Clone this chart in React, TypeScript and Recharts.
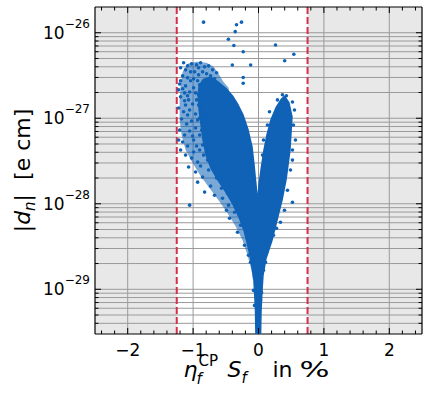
import React from 'react';
import { ComposedChart, XAxis, YAxis, Scatter, ReferenceArea, ReferenceLine } from 'recharts';

// ---- axes / ticks ----
const xDomain = [-2.5, 2.5];
const yDomain = [3e-30, 2e-26];
const xTicks = [-2.4, -2.2, -2, -1.8, -1.6, -1.4, -1.2, -1, -0.8, -0.6, -0.4, -0.2, 0, 0.2, 0.4, 0.6, 0.8, 1, 1.2, 1.4, 1.6, 1.8, 2, 2.2, 2.4];
const xMajorTicks = [-2, -1, 0, 1, 2];
const xMajorLabels = ['\u22122', '\u22121', '0', '1', '2'];
const yTicks = [
  4e-30, 5e-30, 6e-30, 7e-30, 8e-30, 9e-30,
  1e-29, 2e-29, 3e-29, 4e-29, 5e-29, 6e-29, 7e-29, 8e-29, 9e-29,
  1e-28, 2e-28, 3e-28, 4e-28, 5e-28, 6e-28, 7e-28, 8e-28, 9e-28,
  1e-27, 2e-27, 3e-27, 4e-27, 5e-27, 6e-27, 7e-27, 8e-27, 9e-27,
  1e-26,
];
const yMajorTicks = [1e-29, 1e-28, 1e-27, 1e-26];
const yMajorLabels = ['\u221229', '\u221228', '\u221227', '\u221226'];

// ---- excluded regions & bounds ----
const excludedLeft = [-2.5, -1.25];
const excludedRight = [0.75, 2.5];
const boundLines = [-1.25, 0.75];

// ---- medium-density envelope of the left lobe (outline) ----
const haloOutline = [
  { x: -0.061, y: 9.71e-30 }, { x: -0.107, y: 1.67e-29 }, { x: -0.168, y: 2.5e-29 },
  { x: -0.244, y: 3.74e-29 }, { x: -0.351, y: 5.46e-29 }, { x: -0.473, y: 7.76e-29 },
  { x: -0.611, y: 1.1e-28 }, { x: -0.748, y: 1.52e-28 }, { x: -0.885, y: 2.11e-28 },
  { x: -1.008, y: 2.99e-28 }, { x: -1.115, y: 4.25e-28 }, { x: -1.176, y: 6.37e-28 },
  { x: -1.206, y: 9.55e-28 }, { x: -1.206, y: 1.64e-27 }, { x: -1.191, y: 2.46e-27 },
  { x: -1.16, y: 3.49e-27 }, { x: -1.084, y: 4.33e-27 }, { x: -0.947, y: 4.57e-27 },
  { x: -0.794, y: 4.45e-27 }, { x: -0.687, y: 3.99e-27 }, { x: -0.611, y: 3.31e-27 },
  { x: -0.534, y: 2.66e-27 }, { x: -0.458, y: 2.27e-27 }, { x: -0.29, y: 4.25e-28 },
];

// ---- dense core of the scatter cloud (outline) ----
const coreOutline = [
  { x: -0.031, y: 2.7e-30 }, { x: -0.038, y: 5.66e-30 }, { x: -0.053, y: 9.71e-30 },
  { x: -0.061, y: 1.27e-29 }, { x: -0.092, y: 1.81e-29 }, { x: -0.122, y: 2.5e-29 },
  { x: -0.168, y: 3.55e-29 }, { x: -0.214, y: 4.91e-29 }, { x: -0.29, y: 6.97e-29 },
  { x: -0.382, y: 9.89e-29 }, { x: -0.489, y: 1.37e-28 }, { x: -0.611, y: 1.89e-28 },
  { x: -0.718, y: 2.61e-28 }, { x: -0.794, y: 3.71e-28 }, { x: -0.84, y: 5.57e-28 },
  { x: -0.87, y: 8.34e-28 }, { x: -0.9, y: 1.25e-27 }, { x: -0.916, y: 1.88e-27 },
  { x: -0.9, y: 2.39e-27 }, { x: -0.84, y: 2.81e-27 }, { x: -0.748, y: 2.97e-27 },
  { x: -0.672, y: 2.81e-27 }, { x: -0.58, y: 2.46e-27 },
  { x: -0.489, y: 2.15e-27 }, { x: -0.397, y: 1.78e-27 },
  { x: -0.321, y: 1.43e-27 }, { x: -0.244, y: 1.09e-27 }, { x: -0.168, y: 7.29e-28 },
  { x: -0.107, y: 4.61e-28 }, { x: -0.076, y: 2.84e-28 }, { x: -0.046, y: 1.65e-28 },
  { x: -0.008, y: 8.88e-29 },
  { x: 0.015, y: 1.65e-28 }, { x: 0.046, y: 2.48e-28 }, { x: 0.092, y: 4.25e-28 },
  { x: 0.137, y: 6.37e-28 }, { x: 0.198, y: 9.55e-28 }, { x: 0.275, y: 1.32e-27 },
  { x: 0.351, y: 1.64e-27 }, { x: 0.397, y: 1.78e-27 }, { x: 0.458, y: 1.51e-27 },
  { x: 0.504, y: 1.04e-27 }, { x: 0.489, y: 6.72e-28 }, { x: 0.473, y: 4.25e-28 },
  { x: 0.443, y: 2.84e-28 }, { x: 0.412, y: 1.89e-28 }, { x: 0.351, y: 1.1e-28 },
  { x: 0.275, y: 6.42e-29 }, { x: 0.198, y: 3.74e-29 }, { x: 0.107, y: 2.3e-29 },
  { x: 0.061, y: 1.46e-29 }, { x: 0.046, y: 9.71e-30 }, { x: 0.031, y: 5.66e-30 },
  { x: 0.023, y: 2.7e-30 },
];

// ---- individual points (outliers and cloud fringe) ----
const outlierPoints = [
  { x: -0.84, y: 1.33e-26 }, { x: -0.336, y: 1.24e-26 }, { x: -0.26, y: 1.33e-26 },
  { x: -0.356, y: 1.03e-26 }, { x: -0.46, y: 8.4e-27 }, { x: -0.377, y: 7.1e-27 },
  { x: -0.234, y: 6.0e-27 }, { x: -0.4, y: 4.2e-27 }, { x: -0.12, y: 4.2e-27 },
  { x: -0.234, y: 3.0e-27 }, { x: -0.234, y: 2.57e-27 }, { x: 0.26, y: 7.2e-27 },
  { x: 0.4, y: 4.7e-27 }, { x: 0.54, y: 5.6e-27 },
];

const fringePoints = [
  { x: -1.145, y: 4.45e-27 }, { x: -1.084, y: 4.1e-27 }, { x: -1.023, y: 4.33e-27 },
  { x: -0.947, y: 4.22e-27 }, { x: -0.885, y: 4.45e-27 }, { x: -0.824, y: 3.99e-27 },
  { x: -0.763, y: 4.1e-27 }, { x: -0.702, y: 3.68e-27 }, { x: -1.115, y: 3.68e-27 },
  { x: -1.038, y: 3.49e-27 }, { x: -0.977, y: 3.49e-27 }, { x: -0.916, y: 3.22e-27 },
  { x: -0.855, y: 3.49e-27 }, { x: -0.794, y: 3.31e-27 }, { x: -0.733, y: 3.13e-27 },
  { x: -1.16, y: 3.13e-27 }, { x: -1.084, y: 2.97e-27 }, { x: -0.992, y: 2.89e-27 },
  { x: -0.641, y: 3.4e-27 }, { x: -0.672, y: 2.89e-27 },
  { x: -1.206, y: 2.52e-27 }, { x: -1.16, y: 2.21e-27 }, { x: -1.115, y: 2.39e-27 },
  { x: -1.053, y: 2.03e-27 }, { x: -1.191, y: 1.78e-27 }, { x: -1.13, y: 1.6e-27 },
  { x: -1.084, y: 1.83e-27 }, { x: -1.008, y: 1.47e-27 }, { x: -1.221, y: 1.32e-27 },
  { x: -1.145, y: 1.19e-27 }, { x: -1.053, y: 1.25e-27 }, { x: -0.962, y: 1.12e-27 },
  { x: -1.176, y: 9.81e-28 }, { x: -1.099, y: 8.57e-28 }, { x: -1.023, y: 9.3e-28 },
  { x: -1.206, y: 7.29e-28 }, { x: -1.13, y: 6.37e-28 }, { x: -1.053, y: 7.1e-28 },
  { x: -0.962, y: 7.69e-28 }, { x: -1.16, y: 5.28e-28 }, { x: -1.084, y: 4.73e-28 },
  { x: -0.992, y: 5.57e-28 }, { x: -0.9, y: 4.25e-28 }, { x: -1.115, y: 3.71e-28 },
  { x: -1.023, y: 3.42e-28 }, { x: -0.931, y: 3.07e-28 }, { x: -0.84, y: 3.71e-28 },
  { x: -1.069, y: 2.69e-28 }, { x: -0.962, y: 2.35e-28 }, { x: -0.855, y: 2.05e-28 },
  { x: -0.763, y: 2.48e-28 }, { x: -0.931, y: 1.79e-28 }, { x: -0.824, y: 1.37e-28 },
  { x: -0.733, y: 1.61e-28 }, { x: -1.053, y: 9.63e-29 }, { x: -0.641, y: 2.0e-28 },
  { x: -0.565, y: 1.52e-28 }, { x: -0.55, y: 1.16e-28 }, { x: -0.458, y: 9.63e-29 },
  { x: -0.443, y: 6.78e-29 }, { x: -0.366, y: 7.97e-29 }, { x: -0.321, y: 4.65e-29 },
  { x: -0.275, y: 5.61e-29 }, { x: -0.214, y: 3.27e-29 }, { x: -0.168, y: 3.95e-29 },
  { x: -0.153, y: 2.5e-29 }, { x: -0.122, y: 2.07e-29 },
  { x: 0.519, y: 1.55e-27 }, { x: 0.55, y: 1.25e-27 }, { x: 0.534, y: 8.34e-28 },
  { x: 0.565, y: 5.57e-28 }, { x: 0.519, y: 4.25e-28 }, { x: 0.519, y: 3.24e-28 },
  { x: 0.489, y: 2.48e-28 }, { x: 0.519, y: 1.04e-28 }, { x: 0.443, y: 1.44e-28 },
  { x: 0.397, y: 8.41e-29 }, { x: 0.275, y: 5.18e-29 }, { x: 0.336, y: 6.09e-29 },
  { x: 0.168, y: 3.55e-29 }, { x: 0.229, y: 4.28e-29 }, { x: 0.122, y: 2.71e-29 },
  { x: 0.107, y: 2.07e-29 }, { x: 0.076, y: 1.67e-29 }, { x: 0.168, y: 1.19e-27 },
  { x: 0.137, y: 8.34e-28 }, { x: 0.076, y: 5.57e-28 }, { x: 0.061, y: 3.71e-28 },
  { x: 0.29, y: 1.64e-27 }, { x: 0.366, y: 1.88e-27 }, { x: 0.427, y: 1.83e-27 },
  { x: -0.153, y: 4.25e-28 }, { x: -0.122, y: 3.24e-28 }, { x: 0.046, y: 1.89e-28 },
  { x: 0.076, y: 2.84e-28 },
  { x: -0.076, y: 9.71e-30 }, { x: 0.046, y: 9.2e-30 }, { x: -0.061, y: 6.48e-30 },
  { x: 0.031, y: 7.41e-30 },
  { x: -0.9, y: 2.46e-27 }, { x: -0.84, y: 2.15e-27 }, { x: -0.916, y: 1.88e-27 },
  { x: -0.809, y: 1.64e-27 }, { x: -0.885, y: 1.32e-27 }, { x: -0.824, y: 1.06e-27 },
  { x: -0.931, y: 9.55e-28 }, { x: -0.855, y: 8.34e-28 }, { x: -0.9, y: 6.37e-28 },
  { x: -0.809, y: 5.87e-28 }, { x: -0.855, y: 4.86e-28 }, { x: -0.763, y: 4.25e-28 },
  { x: -0.718, y: 3.07e-28 }, { x: -0.656, y: 2.61e-28 }, { x: -0.779, y: 3.24e-28 },
  { x: -1.191, y: 3.89e-27 }, { x: -0.916, y: 3.89e-27 }, { x: -1.191, y: 2.74e-27 },
  { x: -1.038, y: 2.74e-27 }, { x: -0.931, y: 2.74e-27 }, { x: -0.992, y: 2.27e-27 },
  { x: -1.221, y: 2.15e-27 }, { x: -1.13, y: 1.98e-27 }, { x: -0.962, y: 1.98e-27 },
  { x: -1.069, y: 1.64e-27 }, { x: -0.947, y: 1.64e-27 }, { x: -1.115, y: 1.43e-27 },
  { x: -0.916, y: 1.43e-27 }, { x: -1.084, y: 1.09e-27 }, { x: -0.9, y: 1.008e-27 },
  { x: -0.87, y: 7.29e-28 }, { x: -1.008, y: 6.2e-28 }, { x: -1.221, y: 5.57e-28 },
  { x: -0.947, y: 4.73e-28 }, { x: -1.191, y: 4.25e-28 }, { x: -0.992, y: 4.03e-28 },
  { x: -0.733, y: 3.52e-28 }, { x: -0.885, y: 2.76e-28 }, { x: -0.534, y: 2.0e-28 },
  { x: -0.672, y: 1.26e-28 }, { x: -0.473, y: 1.33e-28 }, { x: -0.397, y: 1.1e-28 },
  { x: -0.351, y: 9.63e-29 }, { x: -0.29, y: 7.35e-29 }, { x: -0.229, y: 5.61e-29 },
  { x: -0.489, y: 8.41e-29 },
];

// ---- styles ----
const FONT = '"DejaVu Sans", sans-serif';
const BLUE = '#0f62b6';
const GRID = '#9a9a9a';
const SHADE = '#e8e8e8';
const RED = '#d62f4b';

const isMajorX = (v: number) => xMajorTicks.indexOf(v) >= 0;
const isMajorY = (v: number) => yMajorTicks.indexOf(v) >= 0;

const BottomTick = (props: any) => {
  const { x, y, payload } = props;
  const v = payload.value;
  const major = isMajorX(v);
  const idx = xMajorTicks.indexOf(v);
  return (
    <g>
      <line x1={x} y1={y} x2={x} y2={y - (major ? 6 : 3.5)} stroke="#000" strokeWidth={1} />
      {major && (
        <text x={x} y={y + 22} textAnchor="middle" fontSize={17} fontFamily={FONT} fill="#000">
          {xMajorLabels[idx]}
        </text>
      )}
    </g>
  );
};

const TopTick = (props: any) => {
  const { x, y, payload } = props;
  const major = isMajorX(payload.value);
  return <line x1={x} y1={y} x2={x} y2={y + (major ? 6 : 3.5)} stroke="#000" strokeWidth={1} />;
};

const LeftTick = (props: any) => {
  const { x, y, payload } = props;
  const v = payload.value;
  const major = isMajorY(v);
  const idx = yMajorTicks.indexOf(v);
  return (
    <g>
      <line x1={x} y1={y} x2={x + (major ? 6 : 3.5)} y2={y} stroke="#000" strokeWidth={1} />
      {major && (
        <text x={x - 5} y={y + 6} textAnchor="end" fontSize={17} fontFamily={FONT} fill="#000">
          10
          <tspan fontSize={12} dy={-11}>{yMajorLabels[idx]}</tspan>
        </text>
      )}
    </g>
  );
};

const RightTick = (props: any) => {
  const { x, y, payload } = props;
  const major = isMajorY(payload.value);
  return <line x1={x} y1={y} x2={x - (major ? 6 : 3.5)} y2={y} stroke="#000" strokeWidth={1} />;
};

const XLabel = (props: any) => {
  const vb = props.viewBox || { x: 95, width: 327 };
  const cx = vb.x + vb.width / 2;
  const base = 377;
  return (
    <g fontFamily={FONT} fill="#000">
      <text x={cx - 75} y={base} fontSize={22} fontStyle="italic">η</text>
      <text x={cx - 62} y={base + 7} fontSize={15} fontStyle="italic">f</text>
      <text x={cx - 60} y={base - 11} fontSize={15}>CP</text>
      <text x={cx - 31} y={base} fontSize={22} fontStyle="italic">S</text>
      <text x={cx - 17} y={base + 6} fontSize={15} fontStyle="italic">f</text>
      <text x={cx + 14} y={base} fontSize={22}>in</text>
      <text x={cx + 41} y={base} fontSize={22} textLength={30} lengthAdjust="spacingAndGlyphs">%</text>
    </g>
  );
};

const YLabel = (props: any) => {
  const vb = props.viewBox || { y: 7, height: 327 };
  const cy = vb.y + vb.height / 2;
  const bx = 30;
  return (
    <text
      x={bx}
      y={cy}
      transform={`rotate(-90 ${bx} ${cy})`}
      textAnchor="middle"
      fontFamily={FONT}
      fontSize={22}
      fill="#000"
    >
      |<tspan fontStyle="italic">d</tspan>
      <tspan fontStyle="italic" fontSize={15} dy={5}>n</tspan>
      <tspan dy={-5}>|{'\u00a0\u00a0'}[e cm]</tspan>
    </text>
  );
};

const makePolygon = (opacity: number, sw: number) => (props: any) => {
  const pts = props.points || [];
  return (
    <polygon
      points={pts.map((p: any) => `${p.x},${p.y}`).join(' ')}
      fill={BLUE}
      fillOpacity={opacity}
      stroke={sw > 0 ? BLUE : 'none'}
      strokeWidth={sw}
      strokeLinejoin="round"
    />
  );
};
const HaloPolygon = makePolygon(0.55, 0);
const CorePolygon = makePolygon(1, 2.5);

const Dot = (props: any) => <circle cx={props.cx} cy={props.cy} r={1.8} fill={BLUE} />;
const NoDot = () => <g />;

export default function App() {
  return (
    <div style={{ position: 'absolute', left: 0, top: 0, width: 423, height: 402, background: '#fff' }}>
      <ComposedChart width={423} height={402} margin={{ top: 6, right: 0, bottom: 0, left: 0 }}>
        <XAxis
          dataKey="x"
          type="number"
          domain={xDomain}
          ticks={xTicks}
          interval={0}
          height={68}
          tickSize={0}
          tickMargin={0}
          tickLine={false}
          tick={<BottomTick />}
          axisLine={{ stroke: '#000', strokeWidth: 1.2 }}
          allowDataOverflow
          label={<XLabel />}
        />
        <XAxis
          xAxisId="top"
          orientation="top"
          dataKey="x"
          type="number"
          domain={xDomain}
          ticks={xTicks}
          interval={0}
          height={1}
          tickSize={0}
          tickMargin={0}
          tickLine={false}
          tick={<TopTick />}
          axisLine={{ stroke: '#000', strokeWidth: 1.2 }}
          allowDataOverflow
        />
        <YAxis
          dataKey="y"
          type="number"
          scale="log"
          domain={yDomain}
          ticks={yTicks}
          interval={0}
          width={95}
          tickSize={0}
          tickMargin={0}
          tickLine={false}
          tick={<LeftTick />}
          axisLine={{ stroke: '#000', strokeWidth: 1.2 }}
          allowDataOverflow
          label={<YLabel />}
        />
        <YAxis
          yAxisId="right"
          orientation="right"
          dataKey="y"
          type="number"
          scale="log"
          domain={yDomain}
          ticks={yTicks}
          interval={0}
          width={1}
          tickSize={0}
          tickMargin={0}
          tickLine={false}
          tick={<RightTick />}
          axisLine={{ stroke: '#000', strokeWidth: 1.2 }}
          allowDataOverflow
        />
        <ReferenceArea x1={excludedLeft[0]} x2={excludedLeft[1]} fill={SHADE} fillOpacity={1} stroke="none" ifOverflow="hidden" />
        <ReferenceArea x1={excludedRight[0]} x2={excludedRight[1]} fill={SHADE} fillOpacity={1} stroke="none" ifOverflow="hidden" />
        {yTicks.map((v) => (
          <ReferenceLine key={'gy' + v} y={v} stroke={GRID} strokeWidth={1} />
        ))}
        {xMajorTicks.map((v) => (
          <ReferenceLine key={'gx' + v} x={v} stroke={GRID} strokeWidth={1} />
        ))}
        <Scatter
          data={haloOutline}
          line={HaloPolygon}
          lineType="joint"
          shape={NoDot}
          isAnimationActive={false}
          legendType="none"
        />
        <Scatter
          data={coreOutline}
          line={CorePolygon}
          lineType="joint"
          shape={NoDot}
          isAnimationActive={false}
          legendType="none"
        />
        <Scatter data={fringePoints} shape={Dot} isAnimationActive={false} legendType="none" />
        <Scatter data={outlierPoints} shape={Dot} isAnimationActive={false} legendType="none" />
        {boundLines.map((v) => (
          <ReferenceLine key={'b' + v} x={v} stroke={RED} strokeWidth={2} strokeDasharray="7 3" />
        ))}
      </ComposedChart>
    </div>
  );
}
